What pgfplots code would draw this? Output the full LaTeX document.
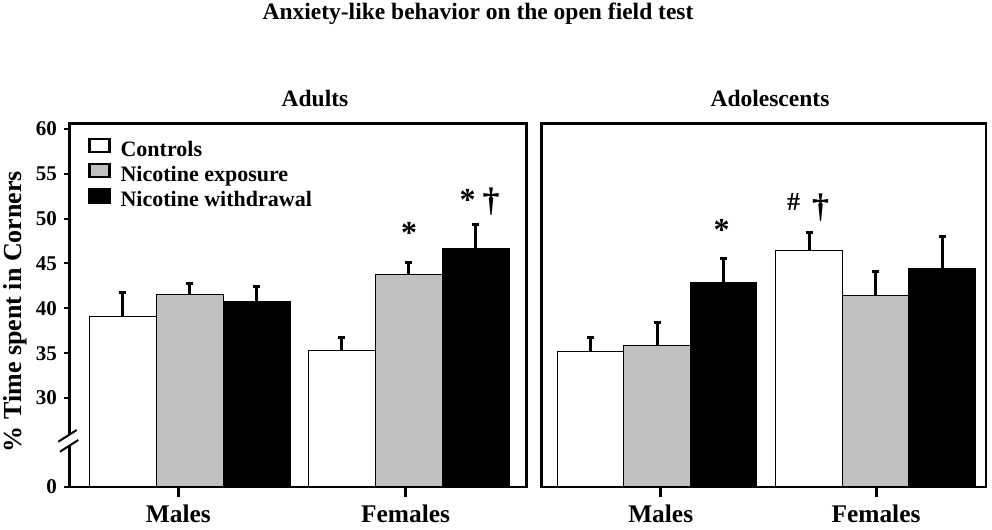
\documentclass[border=0pt]{standalone}
\usepackage{fontspec}
\setmainfont{Liberation Serif}
\usepackage{pgfplots}
\pgfplotsset{compat=1.18}
\definecolor{bargray}{RGB}{192,192,192}
\begin{document}
\begin{tikzpicture}[x=0.5pt,y=0.5pt]
\path[use as bounding box] (0,0) rectangle (992,530);

% ---------------- Adults ----------------
\begin{axis}[
  at={(69.5,48)}, anchor=south west,
  scale only axis, width=228.6pt, height=181.85pt,
  xmin=0, xmax=457.2, ymin=20.1, ymax=60.63,
  axis line style={line width=1.3pt, black},
  ybar, bar width=67, bar shift=0pt,
  ytick={20.1,30,35,40,45,50,55,60},
  yticklabels={0,30,35,40,45,50,55,60},
  xtick=\empty,
  extra x ticks={108.8,336.1},
  extra x tick labels={Males,Females},
  extra x tick style={major tick length=5pt, tick style={line width=1.5pt,black},
     xticklabel style={anchor=base, inner sep=0pt, yshift=-13pt, font=\fontsize{12.7}{14}\selectfont\bfseries}},
  tick align=outside, tick pos=left, major tick length=2.75pt,
  tick style={line width=1pt, black},
  yticklabel style={font=\fontsize{10.5}{12}\selectfont\bfseries},
  error bars/y dir=plus, error bars/y explicit,
  error bars/error bar style={line width=1.3pt, black},
  error bars/error mark options={rotate=90, mark size=1.75pt, line width=1.5pt, black},
  legend style={at={(0.0405,0.96)}, anchor=north west, draw=none, fill=none,
     inner sep=0pt, font=\fontsize{11}{13}\selectfont\bfseries, row sep=1.25pt,
     nodes={inner sep=0pt, text height=7.5pt, text depth=2pt},
     /tikz/every odd column/.append style={column sep=5pt}},
  legend cell align=left,
  legend image code/.code={\draw[#1, line width=1.1pt] (0pt,-0.5pt) rectangle (10pt,6pt);},
]
\addplot[fill=white, draw=black, line width=0.5pt]
  coordinates {(53,39.11) +- (0,2.67) (272,35.26) +- (0,1.48)};
\addlegendentry{Controls}
\addplot[fill=bargray, draw=black, line width=0.5pt]
  coordinates {(120,41.56) +- (0,1.25) (339,43.78) +- (0,1.36)};
\addlegendentry{Nicotine exposure}
\addplot[fill=black, draw=black, line width=0.5pt]
  coordinates {(187,40.74) +- (0,1.67) (406,46.67) +- (0,2.67)};
\addlegendentry{Nicotine withdrawal}
\node[anchor=base, font=\fontsize{16}{18}\selectfont\bfseries] at (axis cs:339.5,47.2) {*};
\node[anchor=base, font=\fontsize{16}{18}\selectfont\bfseries] at (axis cs:398,50.85) {*};
\node[anchor=base, font=\fontsize{17}{19}\selectfont\bfseries] at (axis cs:421.5,50.8) {\textdagger};
\end{axis}

% ---------------- Adolescents ----------------
\begin{axis}[
  at={(541.7,48)}, anchor=south west,
  scale only axis, width=222.15pt, height=181.85pt,
  xmin=0, xmax=444.3, ymin=20.1, ymax=60.63,
  axis line style={line width=1.3pt, black},
  ybar, bar width=66.5, bar shift=0pt,
  ytick=\empty,
  xtick=\empty,
  extra x ticks={119,334.3},
  extra x tick labels={Males,Females},
  extra x tick style={major tick length=5pt, tick style={line width=1.5pt,black},
     xticklabel style={anchor=base, inner sep=0pt, yshift=-13pt, font=\fontsize{12.7}{14}\selectfont\bfseries}},
  tick align=outside, tick pos=left,
  error bars/y dir=plus, error bars/y explicit,
  error bars/error bar style={line width=1.3pt, black},
  error bars/error mark options={rotate=90, mark size=1.75pt, line width=1.5pt, black},
]
\addplot[fill=white, draw=black, line width=0.5pt]
  coordinates {(49,35.22) +- (0,1.48) (267.5,46.44) +- (0,2.04)};
\addplot[fill=bargray, draw=black, line width=0.5pt]
  coordinates {(115.5,35.81) +- (0,2.56) (334,41.41) +- (0,2.73)};
\addplot[fill=black, draw=black, line width=0.5pt]
  coordinates {(182,42.86) +- (0,2.7) (400.5,44.44) +- (0,3.59)};
\node[anchor=base, font=\fontsize{16}{18}\selectfont\bfseries] at (axis cs:179.8,47.6) {*};
\node[anchor=base, font=\fontsize{13}{15}\selectfont\bfseries] at (axis cs:251.8,50.95) {\#};
\node[anchor=base, font=\fontsize{17}{19}\selectfont\bfseries] at (axis cs:278.8,50.15) {\textdagger};
\end{axis}

% axis break on the left axis
\fill[white] (58.3,88.3) -- (76.7,100) -- (78.3,90) -- (60,78.3) -- cycle;
\draw[line width=1pt] (58.3,88.3) -- (76.7,100);
\draw[line width=1pt] (60,78.3) -- (78.3,90);

% titles
\node[anchor=base, font=\fontsize{11.75}{14}\selectfont\bfseries] at (478,510) {Anxiety-like behavior on the open field test};
\node[anchor=base, font=\fontsize{11.75}{14}\selectfont\bfseries] at (315,423.3) {Adults};
\node[anchor=base, font=\fontsize{11.75}{14}\selectfont\bfseries] at (770,423.3) {Adolescents};
\node[rotate=90, font=\fontsize{13}{15}\selectfont\bfseries] at (15.5,218.5) {\% Time spent in Corners};
\end{tikzpicture}
\end{document}
